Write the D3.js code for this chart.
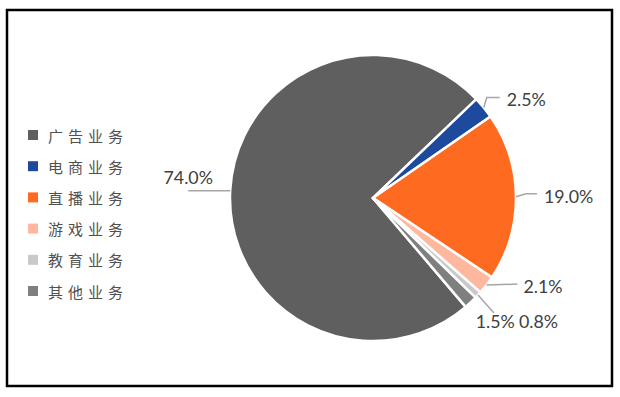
<!DOCTYPE html>
<html><head><meta charset="utf-8">
<script src="https://cdn.jsdelivr.net/npm/d3@7/dist/d3.min.js"></script>
<style>body{margin:0;background:#fff}svg{display:block}</style>
</head><body>
<svg id="c" width="620" height="397"></svg>
<script>
const categories = ["广告业务","电商业务","直播业务","游戏业务","教育业务","其他业务"];
const values = [74.0, 2.5, 19.0, 2.1, 0.8, 1.5];
const labels = ["74.0%","2.5%","19.0%","2.1%","0.8%","1.5%"];
const colors = ["#5f5f5f","#1d4a9c","#ff6a21","#ffb79e","#c9c9c9","#7f7f7f"];

const svg = d3.select("#c");
svg.append("rect").attr("x",7).attr("y",10).attr("width",605).attr("height",376)
  .attr("fill","#fff").attr("stroke","#000").attr("stroke-width",2.5);

const cx = 373, cy = 198, R = 143;
const start = 139.6*Math.PI/180;
const pie = d3.pie().sort(null).value(d=>d).startAngle(start).endAngle(start+2*Math.PI);
const arcs = pie(values);
const arc = d3.arc().innerRadius(0).outerRadius(R);
const g = svg.append("g").attr("transform",`translate(${cx},${cy})`);
g.selectAll("path").data(arcs).join("path")
  .attr("d",arc).attr("fill",(d,i)=>colors[i])
  .attr("stroke","#fff").attr("stroke-width",2.5).attr("stroke-linejoin","miter");

// label layout (offsets from the anchor point on the rim)
const pt = (a,r)=>[Math.sin(a)*r, -Math.cos(a)*r];
const layout = [
  {line:[[0,0],[-42,0]], tx:-42, ty:-14, anchor:"middle"},
  {line:[[0,0],[3,-10],[16,-10]], tx:23, ty:-9, anchor:"start"},
  {line:[[0,0],[10,-3],[21,-3]], tx:28, ty:-1, anchor:"start"},
  {line:[[0,0],[31,-1]], tx:37, ty:1, anchor:"start"},
  {line:[[0,0],[16,18]], tx:41, ty:26, anchor:"start"},
  {line:null, tx:5, ty:19, anchor:"start"}
];
arcs.forEach((d,i)=>{
  const m = (d.startAngle+d.endAngle)/2;
  const p = pt(m,R);
  const L = layout[i];
  if (L.line) {
    g.append("path").attr("d", d3.line()(L.line.map(q=>[p[0]+q[0],p[1]+q[1]])))
      .attr("fill","none").attr("stroke","#a6a6a6").attr("stroke-width",1.5);
  }
  g.append("text").attr("x",p[0]+L.tx).attr("y",p[1]+L.ty)
    .attr("text-anchor",L.anchor).attr("dominant-baseline","central")
    .attr("font-family","Lato, 'Liberation Sans', sans-serif").attr("font-size",17.8)
    .attr("fill","#404040").text(labels[i]);
});

// legend
const lg = svg.append("g");
const ly = d3.scalePoint().domain(categories).range([135,291]);
categories.forEach((c,i)=>{
  lg.append("rect").attr("x",28).attr("y",ly(c)-5).attr("width",10).attr("height",10).attr("fill",colors[i]);
  lg.append("text").attr("x",48).attr("y",ly(c)).attr("dominant-baseline","central")
    .attr("font-family","'Noto Sans CJK SC', sans-serif").attr("font-size",15)
    .attr("letter-spacing",5).attr("fill","#505050").text(c);
});
</script>
</body></html>
